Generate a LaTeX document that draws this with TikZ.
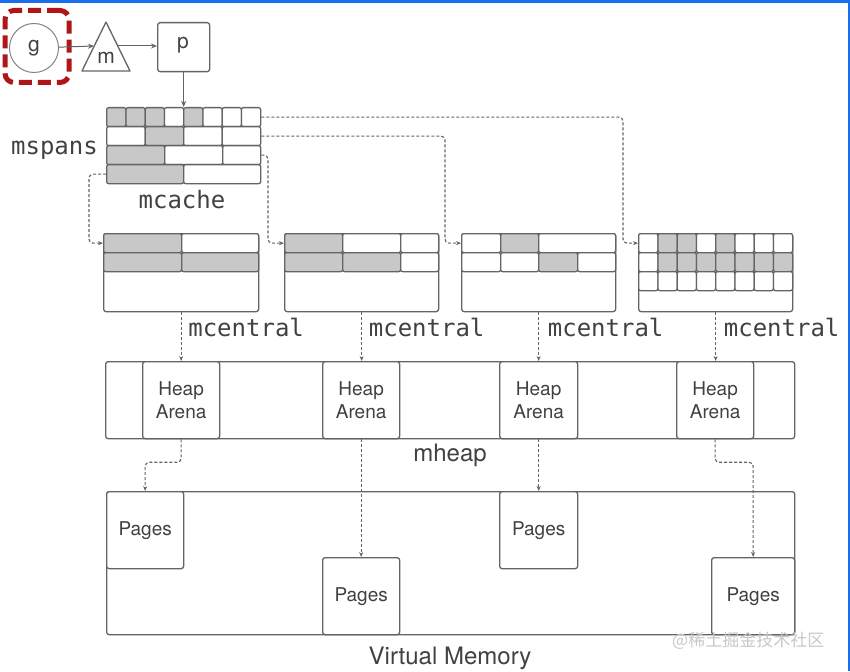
\documentclass[tikz,border=0pt]{standalone}
\usepackage{fontspec}
\setmainfont{TeX Gyre Heros}
\newfontfamily\monofont{DejaVu Sans Mono}
\newfontfamily\cjk{Noto Sans CJK SC}
\usetikzlibrary{arrows.meta,calc}
\definecolor{ln}{RGB}{100,100,100}
\definecolor{gf}{RGB}{200,200,200}
\definecolor{tx}{RGB}{65,65,65}
\definecolor{rd}{RGB}{175,22,22}
\definecolor{bl}{RGB}{25,110,235}
\definecolor{wm}{RGB}{200,200,200}
\begin{document}
\begin{tikzpicture}[x=1pt,y=-1pt,
 box/.style={draw=ln, line width=1.3pt, rounded corners=2.5pt, fill=white, inner sep=0pt, anchor=north west},
 cell/.style={draw=ln, line width=1.3pt, rounded corners=2pt, inner sep=0pt, anchor=north west, minimum height=19pt},
 conn/.style={draw=ln, line width=1pt, -{Stealth[length=6pt,width=5pt]}},
 dconn/.style={draw=ln, line width=1.15pt, dash pattern=on 3pt off 2pt, rounded corners=4pt, -{Stealth[length=5pt,width=4pt]}},
 sans/.style={text=tx, font=\fontsize{19}{23}\selectfont, align=center},
 mono/.style={text=tx, inner sep=0pt, font=\monofont\fontsize{24}{24}\selectfont},
 big/.style={text=tx, inner sep=0pt, font=\fontsize{24}{24}\selectfont}]
\useasboundingbox (0,0) rectangle (850,671);
\fill[white] (0,0) rectangle (850,671);
\fill[bl] (0,0) rectangle (850,3);
\fill[bl] (847.5,0) rectangle (850,671);

% top: g, m, p
\node[draw=rd, line width=5pt, dash pattern=on 13pt off 6pt, rounded corners=9pt,
      minimum width=64pt, minimum height=72pt, inner sep=0pt, anchor=north west] (gsel) at (2.5,8) {};
\node[circle, draw=ln!80, line width=1pt, minimum size=49pt, text=tx, font=\fontsize{21}{21}\selectfont] (g) at (34,48) {g};
\draw[draw=ln, line width=1.3pt, line join=round] (106,22) -- (130,71) -- (82,71) -- cycle;
\node[text=tx, font=\fontsize{21}{21}\selectfont, inner sep=0pt] (m) at (106,58) {m};
\coordinate (mL) at (94,46);
\coordinate (mR) at (118,46);
\node[box, minimum width=52pt, minimum height=49pt] (p) at (157,22) {};
\node[text=tx, font=\fontsize{21}{21}\selectfont, inner sep=0pt] (plab) at (183,45) {p};
\draw[conn] (g) -- (mL);
\draw[conn] (mR) -- (p.west |- mR);

% mcache
\foreach \f [count=\i] in {gf,gf,gf,white,gf,white,white,white}
  \node[cell, fill=\f, minimum width=19.25pt] (mc1-\i) at ({106+(\i-1)*19.25},107) {};
\foreach \f [count=\i] in {white,gf,white,white}
  \node[cell, fill=\f, minimum width=38.5pt] (mc2-\i) at ({106+(\i-1)*38.5},126) {};
\foreach \x/\w/\f [count=\i] in {106/58/gf,164/58/white,222/38/white}
  \node[cell, fill=\f, minimum width=\w pt] (mc3-\i) at (\x,145) {};
\foreach \x/\w/\f [count=\i] in {106/77/gf,183/77/white}
  \node[cell, fill=\f, minimum width=\w pt] (mc4-\i) at (\x,164) {};
\draw[conn] (p.south) -- (p.south |- mc1-1.north);
\node[mono, anchor=east] (mspans) at (98,150) {mspans};
\node[mono] (mcache) at (182,200) {mcache};

% mcentral boxes
\node[box, minimum width=155pt, minimum height=78pt] (cen1) at (103,233) {};
\node[box, minimum width=154pt, minimum height=78pt] (cen2) at (284,233) {};
\node[box, minimum width=154pt, minimum height=78pt] (cen3) at (461,233) {};
\node[box, minimum width=154pt, minimum height=78pt] (cen4) at (638,233) {};
\foreach \x/\w/\f [count=\i] in {103/78/gf,181/77/white}
  \node[cell, fill=\f, minimum width=\w pt] (ca1-\i) at (\x,233) {};
\foreach \x/\w/\f [count=\i] in {103/78/gf,181/77/gf}
  \node[cell, fill=\f, minimum width=\w pt] (ca2-\i) at (\x,252) {};
\foreach \x/\w/\f [count=\i] in {284/58/gf,342/58/white,400/38/white}
  \node[cell, fill=\f, minimum width=\w pt] (cb1-\i) at (\x,233) {};
\foreach \x/\w/\f [count=\i] in {284/58/gf,342/58/gf,400/38/white}
  \node[cell, fill=\f, minimum width=\w pt] (cb2-\i) at (\x,252) {};
\foreach \x/\w/\f [count=\i] in {461/39/white,500/38/gf,538/77/white}
  \node[cell, fill=\f, minimum width=\w pt] (cc1-\i) at (\x,233) {};
\foreach \x/\w/\f [count=\i] in {461/39/white,500/38/white,538/39/gf,577/38/white}
  \node[cell, fill=\f, minimum width=\w pt] (cc2-\i) at (\x,252) {};
\foreach \f [count=\i] in {white,gf,gf,white,gf,white,white,white}
  \node[cell, fill=\f, minimum width=19.25pt] (cd1-\i) at ({638+(\i-1)*19.25},233) {};
\foreach \f [count=\i] in {white,gf,gf,gf,gf,gf,gf,gf}
  \node[cell, fill=\f, minimum width=19.25pt] (cd2-\i) at ({638+(\i-1)*19.25},252) {};
\foreach \f [count=\i] in {white,white,white,white,white,white,white,white}
  \node[cell, fill=\f, minimum width=19.25pt] (cd3-\i) at ({638+(\i-1)*19.25},271) {};

% mcache -> mcentral
\draw[dconn] (mc4-1.west) -| ([xshift=-14pt]ca1-1.west) -- (ca1-1.west);
\draw[dconn] (mc3-3.east) -| ([xshift=-16pt]cb1-1.west) -- (cb1-1.west);
\draw[dconn] (mc2-4.east) -| ([xshift=-16pt]cc1-1.west) -- (cc1-1.west);
\draw[dconn] (mc1-8.east) -| ([xshift=-15pt]cd1-1.west) -- (cd1-1.west);

% mheap
\node[box, minimum width=689pt, minimum height=77pt] (mheap) at (105,361) {};
\node[box, sans, minimum width=77pt, minimum height=77pt] (ha1) at (142,361) {Heap\\Arena};
\node[box, sans, minimum width=77pt, minimum height=77pt] (ha2) at (322,361) {Heap\\Arena};
\node[box, sans, minimum width=78pt, minimum height=77pt] (ha3) at (499,361) {Heap\\Arena};
\node[box, sans, minimum width=77pt, minimum height=77pt] (ha4) at (676,361) {Heap\\Arena};
\node[big] (mheaplab) at (450,455) {mheap};

\foreach \c/\h in {cen1/ha1,cen2/ha2,cen3/ha3,cen4/ha4}
  \draw[dconn] (\c.south) -- (\c.south |- \h.north);
\node[mono, anchor=west] (lc1) at ($(cen1.south)+(7,15)$) {mcentral};
\node[mono, anchor=west] (lc2) at ($(cen2.south)+(7,15)$) {mcentral};
\node[mono, anchor=west] (lc3) at ($(cen3.south)+(9,15)$) {mcentral};
\node[mono, anchor=west] (lc4) at ($(cen4.south)+(8,15)$) {mcentral};

% virtual memory
\node[box, minimum width=688pt, minimum height=143pt] (vm) at (106,491) {};
\node[box, sans, minimum width=77pt, minimum height=77pt] (pg1) at (106,491) {Pages};
\node[box, sans, minimum width=77pt, minimum height=77pt] (pg2) at (322,557) {Pages};
\node[box, sans, minimum width=78pt, minimum height=77pt] (pg3) at (499,491) {Pages};
\node[box, sans, minimum width=83pt, minimum height=77pt] (pg4) at (711,557) {Pages};
\node[big] (vmlab) at (450,658) {Virtual Memory};

\draw[dconn] (ha1.south) -- ++(0,23) -| (pg1.north);
\draw[dconn] (ha2.south) -- (ha2.south |- pg2.north);
\draw[dconn] (ha3.south) -- (ha3.south |- pg3.north);
\draw[dconn] (ha4.south) -- ++(0,23) -| (pg4.north);

\node[text=wm, inner sep=0pt, anchor=west, font=\cjk\fontsize{17}{17}\selectfont] (wmark) at (672,641) {@稀土掘金技术社区};
\end{tikzpicture}
\end{document}
